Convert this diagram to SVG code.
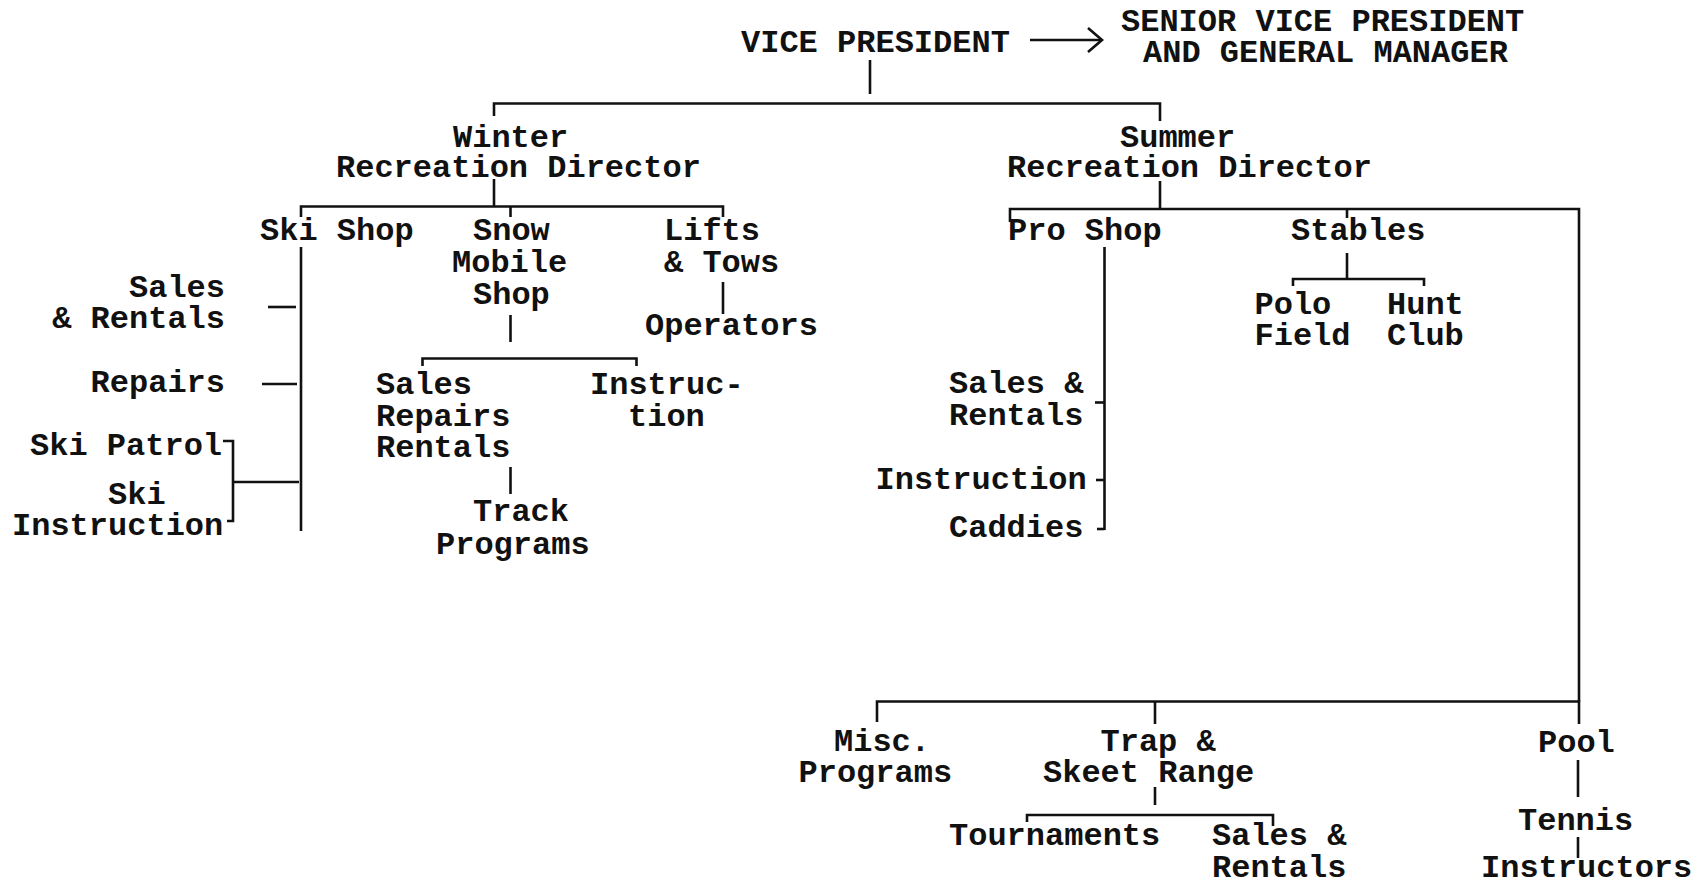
<svg xmlns="http://www.w3.org/2000/svg" width="1703" height="885" viewBox="0 0 1703 885">
<style>
text{font-family:"Liberation Mono","Courier New",monospace;font-size:32px;font-weight:bold;fill:#111}
.e{text-anchor:end}
#connectors path,#connectors line{stroke:#111;stroke-width:2.6;fill:none}
</style>
<rect width="1703" height="885" fill="#fff"/>
<g id="connectors">
<line x1="1030" y1="40" x2="1100" y2="40"/>
<path d="M1088,28 L1102,40 L1088,52"/>
<line x1="870" y1="60" x2="870" y2="94"/>
<path d="M494,116 V103.5 H1160 V121"/>
<line x1="494" y1="179" x2="494" y2="206"/>
<path d="M301,217 V206.5 H723 V217"/>
<line x1="510.5" y1="206.5" x2="510.5" y2="217"/>
<line x1="301" y1="247" x2="301" y2="531"/>
<line x1="268" y1="307" x2="296" y2="307"/>
<line x1="262" y1="384" x2="297" y2="384"/>
<path d="M223,441 H233 V521 H227"/>
<line x1="233" y1="482" x2="299" y2="482"/>
<line x1="723" y1="282" x2="723" y2="314"/>
<line x1="510.5" y1="315" x2="510.5" y2="342"/>
<path d="M422.5,366 V358.5 H636.5 V366"/>
<line x1="510.5" y1="467" x2="510.5" y2="494"/>
<line x1="1160" y1="181" x2="1160" y2="209"/>
<path d="M1010,222 V209 H1579 V701.5"/>
<line x1="1347" y1="209" x2="1347" y2="218"/>
<line x1="1104.5" y1="247" x2="1104.5" y2="530"/>
<line x1="1095" y1="402.5" x2="1104.5" y2="402.5"/>
<line x1="1096" y1="480" x2="1104.5" y2="480"/>
<line x1="1097" y1="529" x2="1104.5" y2="529"/>
<line x1="1347" y1="253" x2="1347" y2="279"/>
<path d="M1293,286 V279 H1424 V286"/>
<path d="M877,722 V701.5 H1579 V724"/>
<line x1="1155" y1="701.5" x2="1155" y2="724"/>
<line x1="1155" y1="787" x2="1155" y2="805"/>
<path d="M1027,822 V815 H1273 V826"/>
<line x1="1578" y1="760" x2="1578" y2="797"/>
<line x1="1578" y1="837" x2="1578" y2="858"/>
</g>
<g id="vp"><text x="741" y="52">VICE PRESIDENT</text></g>
<g id="svp"><text x="1121" y="31">SENIOR VICE PRESIDENT</text><text x="1143" y="62">AND GENERAL MANAGER</text></g>
<g id="winter"><text x="453" y="147">Winter</text><text x="336" y="177">Recreation Director</text></g>
<g id="summer"><text x="1120" y="147">Summer</text><text x="1007" y="177">Recreation Director</text></g>
<g id="skishop"><text x="260" y="240">Ski Shop</text></g>
<g id="snowmobile"><text x="473" y="240">Snow</text><text x="452" y="271.5">Mobile</text><text x="473" y="304">Shop</text></g>
<g id="lifts"><text x="664" y="240">Lifts</text><text x="664" y="271.5">&amp; Tows</text></g>
<g id="operators"><text x="645" y="334.5">Operators</text></g>
<g id="ski-sales"><text class="e" x="225" y="296.5">Sales</text><text class="e" x="225" y="328">&amp; Rentals</text></g>
<g id="ski-repairs"><text class="e" x="225" y="392">Repairs</text></g>
<g id="ski-patrol"><text x="30" y="455">Ski Patrol</text></g>
<g id="ski-instruction"><text x="108" y="504">Ski</text><text x="12" y="535">Instruction</text></g>
<g id="sm-sales"><text x="376" y="394">Sales</text><text x="376" y="426">Repairs</text><text x="376" y="457">Rentals</text></g>
<g id="sm-instruction"><text x="590" y="394">Instruc-</text><text x="628" y="426">tion</text></g>
<g id="track"><text x="473" y="521">Track</text><text x="436" y="554">Programs</text></g>
<g id="proshop"><text x="1008" y="240">Pro Shop</text></g>
<g id="stables"><text x="1291" y="240">Stables</text></g>
<g id="pro-sales"><text x="949" y="393">Sales &amp;</text><text x="949" y="424.5">Rentals</text></g>
<g id="pro-instruction"><text x="875.5" y="489">Instruction</text></g>
<g id="caddies"><text x="949" y="536.5">Caddies</text></g>
<g id="polo"><text x="1254.5" y="314">Polo</text><text x="1254.5" y="344.5">Field</text></g>
<g id="hunt"><text x="1387" y="314">Hunt</text><text x="1387" y="344.5">Club</text></g>
<g id="misc"><text x="834" y="750.5">Misc.</text><text x="798.5" y="782">Programs</text></g>
<g id="trap"><text x="1100.5" y="750.5">Trap &amp;</text><text x="1043" y="782">Skeet Range</text></g>
<g id="tournaments"><text x="949" y="845">Tournaments</text></g>
<g id="trap-sales"><text x="1212" y="845">Sales &amp;</text><text x="1212" y="876.5">Rentals</text></g>
<g id="pool"><text x="1538" y="751.5">Pool</text></g>
<g id="tennis"><text x="1518" y="830">Tennis</text><text x="1481" y="877">Instructors</text></g>
</svg>
